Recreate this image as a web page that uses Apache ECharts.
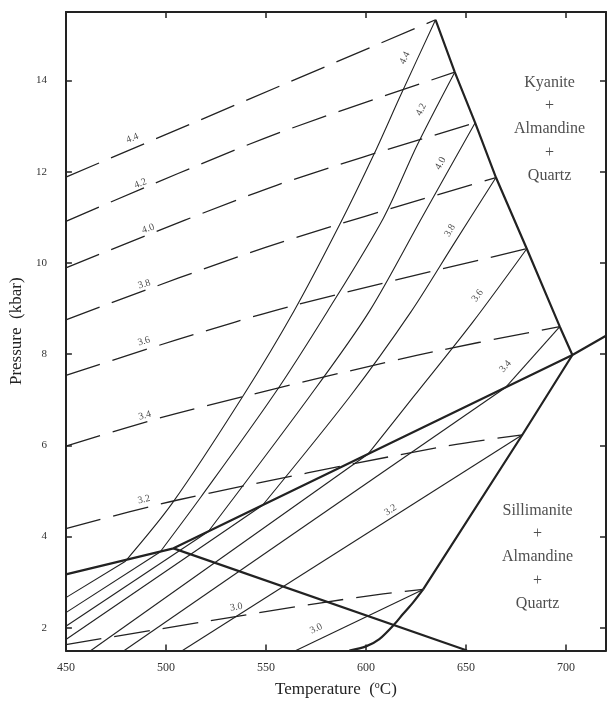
<!DOCTYPE html>
<html>
<head>
<meta charset="utf-8">
<script src="https://cdn.jsdelivr.net/npm/echarts@6/dist/echarts.min.js"></script>
<style>
html,body{margin:0;padding:0;background:#fff;}
#chart{width:607px;height:703px;}
</style>
</head>
<body>
<div id="chart"></div>
<script>
// ---- axis ticks ----
const xTickLabels = [450, 500, 550, 600, 650, 700];
const yTickLabels = [2, 4, 6, 8, 10, 12, 14];

// ---- thick phase boundaries (T degC, P kbar) ----
const kyanSillLine = [[450, 3.17], [503.8, 3.74], [703.2, 7.98], [720, 8.40]];
const lowPressLine = [[503.8, 3.74], [650.5, 1.5]];
const kyaniteLimit = [[634.8, 15.33], [644.4, 14.18], [654.6, 13.07], [665.0, 11.87], [680.4, 10.31], [696.9, 8.60], [703.2, 7.98]];
const sillLimitStraight = [[703.2, 7.98], [678.2, 6.23], [628.6, 2.84]];
const sillLimitCurve = [[628.6, 2.84], [623.5, 2.55], [618.5, 2.30], [614.3, 2.08], [606.7, 1.75], [600.0, 1.59], [591.7, 1.5]];

// ---- dashed isopleths ----
const dash44 = [[450, 11.88], [634.8, 15.33]];
const dash42 = [[450, 10.91], [549.2, 12.73], [644.4, 14.18]];
const dash40 = [[450, 9.89], [555.3, 11.70], [654.6, 13.07]];
const dash38 = [[450, 8.75], [549.8, 10.34], [665.0, 11.87]];
const dash36 = [[450, 7.53], [505.2, 8.31], [563.4, 9.06], [680.4, 10.31]];
const dash34 = [[450, 5.98], [505.5, 6.70], [625.3, 7.97], [696.9, 8.60]];
const dash32 = [[450, 4.17], [505.9, 4.80], [635.7, 5.95], [678.2, 6.23]];
const dash30 = [[450, 1.63], [517.6, 2.12], [575.2, 2.53], [608.6, 2.74], [628.6, 2.84]];

// ---- solid isopleths, kyanite field (curved) ----
const ky44 = [[479.6, 3.45], [503.2, 4.73], [538.7, 7.09], [564.1, 8.95], [587.0, 10.85], [604.0, 12.38], [617.5, 13.69], [634.8, 15.33]];
const ky42 = [[497.1, 3.66], [517.4, 4.86], [553.7, 7.09], [580.8, 8.94], [608.7, 10.98], [625.7, 12.59], [644.4, 14.18]];
const ky40 = [[521.2, 4.11], [572.0, 7.08], [601.6, 8.93], [628.7, 11.05], [654.6, 13.07]];
const ky38 = [[548.3, 4.685], [592.0, 7.07], [622.4, 8.92], [643.7, 10.40], [665.0, 11.87]];
const ky36 = [[601.1, 5.81], [623.7, 7.06], [653.2, 8.69], [680.4, 10.31]];
const ky34 = [[669.6, 7.26], [696.9, 8.60]];

// ---- solid isopleths, sillimanite field ----
const sil44 = [[450, 2.66], [479.6, 3.45]];
const sil42 = [[450, 2.33], [497.1, 3.66]];
const sil40 = [[450, 2.03], [521.2, 4.11]];
const sil38 = [[450, 1.74], [548.3, 4.685]];
const sil36 = [[462.5, 1.5], [601.1, 5.81]];
const sil34 = [[479.2, 1.5], [669.6, 7.26]];
const sil32 = [[508.3, 1.5], [678.2, 6.23]];
const sil30 = [[565.0, 1.5], [628.6, 2.84]];

// ---- labels ----
const dashLabelText = ['4.4', '4.2', '4.0', '3.8', '3.6', '3.4', '3.2', '3.0'];
const dashLabelPos = [[483.2, 12.73], [487.2, 11.74], [491.1, 10.75], [489.2, 9.53], [489.0, 8.28], [489.4, 6.65], [489.0, 4.81], [535.2, 2.45]];
const kyLabelText = ['4.4', '4.2', '4.0', '3.8', '3.6', '3.4'];
const kyLabelPos = [[619.4, 14.49], [627.6, 13.36], [637.3, 12.18], [642.0, 10.71], [655.8, 9.28], [669.7, 7.73]];
const silLabelText = ['3.2', '3.0'];
const silLabelPos = [[612.3, 4.58], [575.1, 1.98]];
const fieldText = ['Kyanite\n+\nAlmandine\n+\nQuartz', 'Sillimanite\n+\nAlmandine\n+\nQuartz'];
const fieldPos = [[691.8, 12.93], [685.8, 3.55]];

// ---- styles (not data) ----
const dashLabelRot = [22, 21, 19, 17, 16, 16, 13, 9];
const kyLabelRot = [64, 63, 61, 58, 54, 49];
const silLabelRot = [33, 27];
const INK = '#222';
const SERIF = '"Liberation Serif", "DejaVu Serif", serif';

function lineSeries(data, width, dashed, smooth) {
  return {
    type: 'line', data: data, symbol: 'none', showSymbol: false, silent: true,
    smooth: smooth ? 0.3 : false, clip: true,
    lineStyle: { color: INK, width: width, type: dashed ? [36, 13] : 'solid', cap: 'butt' },
    z: width > 1.5 ? 4 : 3
  };
}
function textSeries(texts, pos, rots, size, lh) {
  return {
    type: 'scatter', symbolSize: 0, silent: true, z: 6,
    data: texts.map(function (t, i) {
      return {
        value: pos[i],
        label: {
          show: true, formatter: t, rotate: rots ? rots[i] : 0, position: 'inside',
          color: INK, fontFamily: SERIF, fontSize: size, lineHeight: lh || size, align: 'center', verticalAlign: 'middle'
        }
      };
    })
  };
}

const series = [
  lineSeries(kyanSillLine, 2.2), lineSeries(lowPressLine, 2.2), lineSeries(kyaniteLimit, 2.2),
  lineSeries(sillLimitStraight, 2.2), lineSeries(sillLimitCurve, 2.2, false, true),
  lineSeries(dash44, 1.3, true), lineSeries(dash42, 1.3, true, true), lineSeries(dash40, 1.3, true, true),
  lineSeries(dash38, 1.3, true, true), lineSeries(dash36, 1.3, true, true), lineSeries(dash34, 1.3, true, true),
  lineSeries(dash32, 1.3, true, true), lineSeries(dash30, 1.3, true, true),
  lineSeries(ky44, 1.1, false, true), lineSeries(ky42, 1.1, false, true), lineSeries(ky40, 1.1, false, true),
  lineSeries(ky38, 1.1, false, true), lineSeries(ky36, 1.1, false, true), lineSeries(ky34, 1.1),
  lineSeries(sil44, 1.1), lineSeries(sil42, 1.1), lineSeries(sil40, 1.1), lineSeries(sil38, 1.1),
  lineSeries(sil36, 1.1), lineSeries(sil34, 1.1), lineSeries(sil32, 1.1), lineSeries(sil30, 1.1),
  textSeries(dashLabelText, dashLabelPos, dashLabelRot, 10),
  textSeries(kyLabelText, kyLabelPos, kyLabelRot, 10),
  textSeries(silLabelText, silLabelPos, silLabelRot, 10),
  textSeries(fieldText, fieldPos, null, 16, 23.3)
];

const axisLineStyle = { show: true, onZero: false, lineStyle: { color: INK, width: 2 } };
const chart = echarts.init(document.getElementById('chart'), null, { renderer: 'canvas' });
chart.setOption({
  animation: false,
  backgroundColor: '#fff',
  grid: { left: 62, top: 12, width: 544, height: 640, containLabel: false },
  xAxis: [{
    type: 'value', min: 450, max: 720, interval: 50, position: 'bottom',
    axisLine: axisLineStyle,
    axisTick: { show: true, inside: true, length: 6, customValues: xTickLabels.slice(1), lineStyle: { color: INK, width: 1.5 } },
    axisLabel: { customValues: xTickLabels, color: '#333', fontFamily: SERIF, fontSize: 12, margin: 11 },
    splitLine: { show: false },
    name: 'Temperature  ({s|o}C)', nameLocation: 'middle', nameGap: 30,
    nameTextStyle: { color: INK, fontFamily: SERIF, fontSize: 17, rich: { s: { fontSize: 10, verticalAlign: 'top', padding: [0, 0, 8, 0], fontFamily: SERIF, color: INK } } }
  }, {
    type: 'value', min: 450, max: 720, interval: 50, position: 'top',
    axisLine: axisLineStyle,
    axisTick: { show: true, inside: true, length: 6, customValues: xTickLabels.slice(1), lineStyle: { color: INK, width: 1.5 } },
    axisLabel: { show: false }, splitLine: { show: false }
  }],
  yAxis: [{
    type: 'value', min: 1.5, max: 15.5, position: 'left',
    axisLine: axisLineStyle,
    axisTick: { show: true, inside: true, length: 6, customValues: yTickLabels, lineStyle: { color: INK, width: 1.5 } },
    axisLabel: { customValues: yTickLabels, color: '#333', fontFamily: SERIF, fontSize: 11, margin: 19 },
    splitLine: { show: false },
    name: 'Pressure  (kbar)', nameLocation: 'middle', nameGap: 35, nameRotate: 90,
    nameTextStyle: { color: INK, fontFamily: SERIF, fontSize: 17 }
  }, {
    type: 'value', min: 1.5, max: 15.5, position: 'right',
    axisLine: axisLineStyle,
    axisTick: { show: true, inside: true, length: 6, customValues: yTickLabels, lineStyle: { color: INK, width: 1.5 } },
    axisLabel: { show: false }, splitLine: { show: false }
  }],
  series: series
});
</script>
</body>
</html>
